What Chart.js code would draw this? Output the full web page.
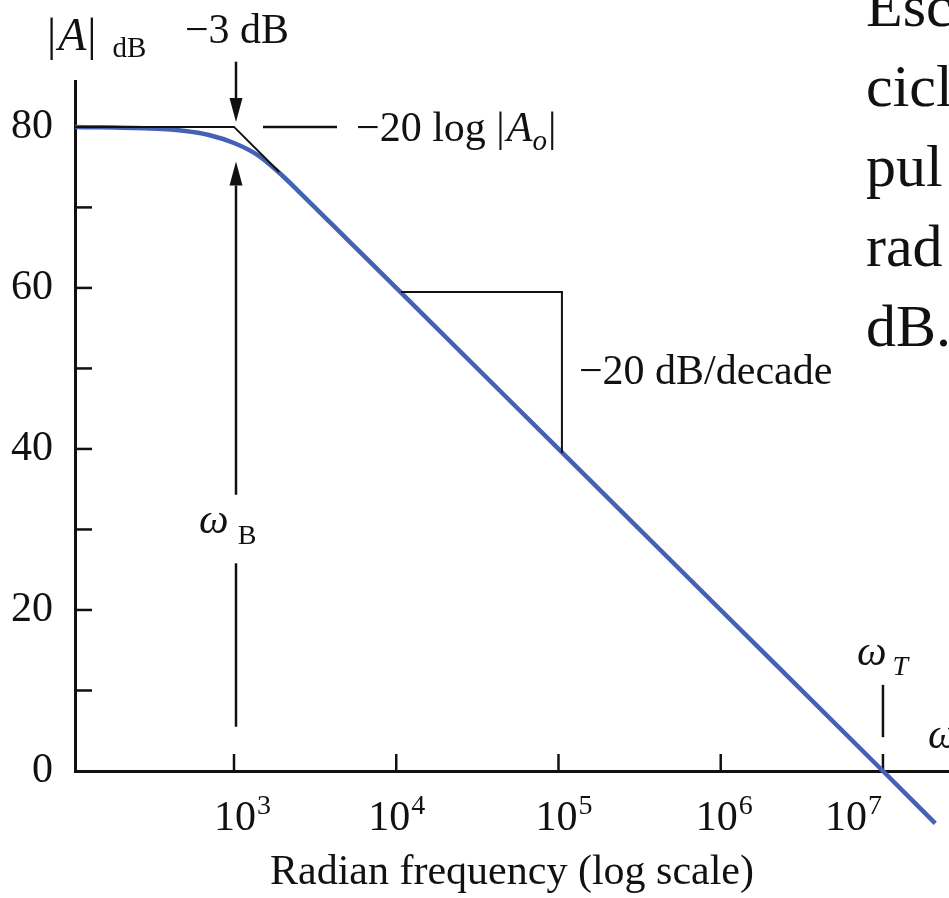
<!DOCTYPE html>
<html>
<head>
<meta charset="utf-8">
<script src="https://cdn.jsdelivr.net/npm/chart.js@4.4.1/dist/chart.umd.min.js"></script>
<style>
  html, body { margin: 0; padding: 0; background: #fff; overflow: hidden; }
  #wrap { width: 949px; height: 898px; }
</style>
</head>
<body>
<div id="wrap"><canvas id="bode" width="949" height="898"></canvas></div>
<script>
// gain curve (rad/s, dB)
const freq = [105, 300, 500, 700, 1000, 1400, 1900, 2500, 5000, 1e4, 1e5, 1e6, 1e7, 2.1e7];
const gain = [80, 79.8, 79.5, 79.0, 78.0, 76.5, 74.3, 72.0, 66.0, 60, 40, 20, 0, -6.5];
// straight-line asymptote under the curve
const asymFreq = [105, 1000, 1900];
const asymGain = [80, 80, 74.4];
// axes
const xTicks = [1e3, 1e4, 1e5, 1e6, 1e7];
const xTickExp = ['3', '4', '5', '6', '7'];
const yTicks = [10, 20, 30, 40, 50, 60, 70, 80];
const yLabels = [0, 20, 40, 60, 80];
// marker positions
const wB = 1e3, wT = 1e7;
const slope = { f1: 1.07e4, f2: 1.05e5, g1: 59.5, g2: 39.5 };
// text cut off at the right edge of the slide
const sideText = ['Esc', 'cicl', 'pul', 'rad', 'dB.'];

const serif = '"Liberation Serif", "DejaVu Serif", serif';
const ink = '#111';
const blue = '#4461b3';

function pts(xs, ys) { return xs.map((x, i) => ({ x: x, y: ys[i] })); }

// draws runs of text: [text, size, italic, dx, dy]
function runs(ctx, x, y, parts) {
  ctx.textBaseline = 'alphabetic';
  ctx.textAlign = 'left';
  parts.forEach(p => {
    ctx.font = (p[2] ? 'italic ' : '') + p[1] + 'px ' + serif;
    ctx.fillText(p[0], x + (p[3] || 0), y + (p[4] || 0));
    x += ctx.measureText(p[0]).width + (p[3] || 0);
  });
}

function arrow(ctx, x, yTail, yTip) {
  const dir = Math.sign(yTip - yTail), len = 24, w = 6.5;
  ctx.beginPath(); ctx.moveTo(x, yTail); ctx.lineTo(x, yTip - dir * len); ctx.stroke();
  ctx.beginPath(); ctx.moveTo(x, yTip); ctx.lineTo(x - w, yTip - dir * len);
  ctx.lineTo(x + w, yTip - dir * len); ctx.closePath(); ctx.fill();
}

function vline(ctx, x, y1, y2) {
  ctx.beginPath(); ctx.moveTo(x, y1); ctx.lineTo(x, y2); ctx.stroke();
}

const tickMarks = {
  id: 'tickMarks',
  beforeDatasetsDraw(chart) {
    const { ctx, scales: { x, y } } = chart;
    ctx.save();
    ctx.strokeStyle = ink; ctx.lineWidth = 2.5;
    yTicks.forEach(v => {
      const py = y.getPixelForValue(v);
      ctx.beginPath(); ctx.moveTo(x.left, py); ctx.lineTo(x.left + 17, py); ctx.stroke();
    });
    xTicks.forEach(v => vline(ctx, x.getPixelForValue(v), y.bottom, y.bottom - 17));
    ctx.restore();
  }
};

const notes = {
  id: 'notes',
  afterDatasetsDraw(chart) {
    const { ctx, scales: { x, y } } = chart;
    const X = v => x.getPixelForValue(v), Y = v => y.getPixelForValue(v);
    ctx.save();
    ctx.fillStyle = ink; ctx.strokeStyle = ink; ctx.lineWidth = 2.5;

    // x tick labels with superscripts
    const shift = [8, 0, 5, 3, -30];
    xTicks.forEach((v, i) => {
      ctx.font = '42px ' + serif;
      const w10 = ctx.measureText('10').width;
      ctx.font = '28px ' + serif;
      const we = ctx.measureText(xTickExp[i]).width;
      const left = X(v) + shift[i] - (w10 + we) / 2;
      runs(ctx, left, 830, [['10', 42], [xTickExp[i], 28, false, 1, -16]]);
    });

    // y axis label
    runs(ctx, 47, 50, [['|', 46], ['A', 46, true, 2], ['|', 46, false, 1], ['dB', 29, false, 16, 7]]);

    // -3 dB marker
    const xb = X(wB) + 2;
    ctx.textAlign = 'center'; ctx.textBaseline = 'alphabetic';
    ctx.font = '42px ' + serif;
    ctx.fillText('\u22123 dB', xb + 1, 43);
    arrow(ctx, xb, Y(88.1), Y(80.6));
    arrow(ctx, xb, Y(34.3), Y(75.7));
    vline(ctx, xb, Y(25.8), Y(5.5));
    runs(ctx, xb - 37, 533, [['\u03c9', 42, true], ['B', 28, false, 9, 11]]);

    // -20 log|Ao| leader
    ctx.beginPath(); ctx.moveTo(xb + 27, Y(80)); ctx.lineTo(xb + 101, Y(80)); ctx.stroke();
    runs(ctx, xb + 120, Y(80) + 14, [['\u221220 log ', 42], ['|', 42], ['A', 42, true, 2], ['o', 29, true, 0, 9], ['|', 42, false, 1]]);

    // slope triangle
    ctx.lineWidth = 2;
    ctx.beginPath();
    ctx.moveTo(X(slope.f1), Y(slope.g1)); ctx.lineTo(X(slope.f2), Y(slope.g1)); ctx.lineTo(X(slope.f2), Y(slope.g2));
    ctx.stroke();
    runs(ctx, X(slope.f2) + 17, 384, [['\u221220 dB/decade', 42]]);

    // omega_T marker
    ctx.lineWidth = 2.5;
    const xt = X(wT);
    vline(ctx, xt, Y(10.7), Y(4.2));
    runs(ctx, xt - 26, 665, [['\u03c9', 42, true], ['T', 28, true, 6, 10]]);
    runs(ctx, xt + 45, 748, [['\u03c9', 42, true]]);

    // slide text cut at right edge
    sideText.forEach((t, i) => runs(ctx, 866, 26 + i * 80, [[t, 60]]));
    ctx.restore();
  }
};

new Chart(document.getElementById('bode'), {
  type: 'line',
  data: {
    datasets: [
      { data: pts(asymFreq, asymGain), borderColor: ink, borderWidth: 2, pointRadius: 0, tension: 0, clip: false },
      { data: pts(freq, gain), borderColor: blue, borderWidth: 4.5, pointRadius: 0, cubicInterpolationMode: 'monotone', clip: false }
    ]
  },
  options: {
    responsive: false,
    animation: false,
    layout: { padding: { top: 81, right: 0, left: 0, bottom: 0 } },
    plugins: { legend: { display: false }, tooltip: { enabled: false } },
    scales: {
      x: {
        type: 'logarithmic', min: 104.7, max: 2.553e7,
        afterBuildTicks: s => { s.ticks = xTicks.map(v => ({ value: v })); },
        afterFit: s => { s.height = 127; },
        ticks: { display: false },
        grid: { display: false, drawTicks: false },
        border: { display: true, color: ink, width: 3 },
        title: {
          display: true, text: 'Radian frequency (log scale)', color: ink,
          font: { family: serif, size: 42 }, padding: { top: 0, bottom: 0 }
        }
      },
      y: {
        min: 0, max: 85.7,
        afterBuildTicks: s => { s.ticks = yLabels.map(v => ({ value: v })); },
        afterFit: s => { s.width = 75; },
        ticks: { font: { family: serif, size: 42 }, color: ink, padding: 22 },
        grid: { display: false, drawTicks: false },
        border: { display: true, color: ink, width: 3 }
      }
    }
  },
  plugins: [tickMarks, notes]
});
</script>
</body>
</html>
